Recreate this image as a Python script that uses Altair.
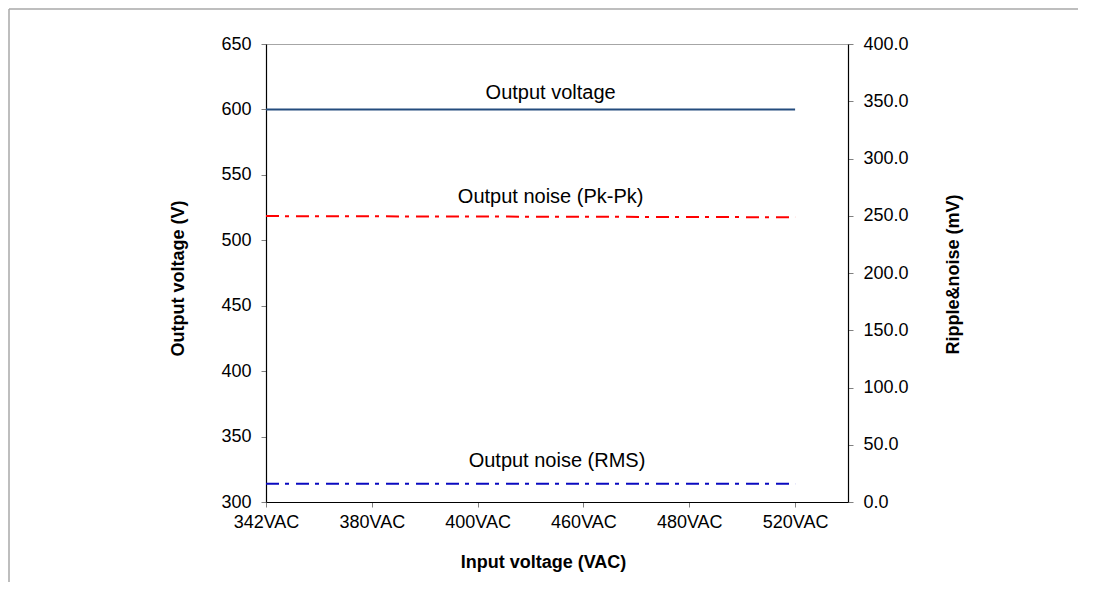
import json
import altair as alt
import pandas as pd

# ---- data ----
categories = ["342VAC", "380VAC", "400VAC", "460VAC", "480VAC", "520VAC"]
output_voltage = [600, 600, 600, 600, 600, 600]          # V (left axis)
noise_pkpk = [249.7, 249.5, 249.3, 249.1, 248.9, 248.7]   # mV (right axis)
noise_rms = [16.0, 16.0, 16.0, 16.0, 16.0, 16.0]          # mV (right axis)

left_ticks = [300, 350, 400, 450, 500, 550, 600, 650]
right_ticks = [0, 50, 100, 150, 200, 250, 300, 350, 400]

# annotation labels (x in category index units, y in the axis units)
ann_left_text = ["Output voltage"]
ann_left_x = [2.69]
ann_left_y = [612.5]
ann_right_text = ["Output noise (Pk-Pk)", "Output noise (RMS)"]
ann_right_x = [2.69, 2.75]
ann_right_y = [266.4, 35.8]

FONT = "Liberation Sans"

df = pd.DataFrame({
    "idx": list(range(len(categories))),
    "category": categories,
    "output_voltage": output_voltage,
    "noise_pkpk": noise_pkpk,
    "noise_rms": noise_rms,
})
ann_l = pd.DataFrame({"text": ann_left_text, "x": ann_left_x, "y": ann_left_y})
ann_r = pd.DataFrame({"text": ann_right_text, "x": ann_right_x, "y": ann_right_y})

label_expr = json.dumps(categories) + "[datum.value]"
x_scale = alt.Scale(domain=[0, 5.5], nice=False, zero=False)
x_axis = alt.Axis(values=list(range(len(categories))), labelExpr=label_expr,
                  title="Input voltage (VAC)", labelFlush=False, labelOverlap=False,
                  labelPadding=6, titleX=277, titleY=60, titleBaseline="middle",
                  titleAlign="center")


def X(field):
    return alt.X(field, type="quantitative", scale=x_scale, axis=x_axis)


left_scale = alt.Scale(domain=[300, 650], nice=False, zero=False)
left_axis = alt.Axis(values=left_ticks, title="Output voltage (V)", labelPadding=10,
                     labelFlush=False, labelOverlap=False,
                     titleAngle=270, titleX=-88, titleY=234, titleBaseline="middle",
                     titleAlign="center")
right_scale = alt.Scale(domain=[0, 400], nice=False, zero=True)
right_axis = alt.Axis(values=right_ticks, orient="right", format=".1f",
                      title="Ripple&noise (mV)", labelPadding=10,
                      labelFlush=False, labelOverlap=False,
                      titleAngle=270, titleX=105, titleY=230, titleBaseline="middle",
                      titleAlign="center")


def YL(field):
    return alt.Y(field, type="quantitative", scale=left_scale, axis=left_axis)


def YR(field):
    return alt.Y(field, type="quantitative", scale=right_scale, axis=right_axis)


base = alt.Chart(df)

v_line = base.mark_line(color="#244C7E", strokeWidth=2).encode(x=X("idx"), y=YL("output_voltage"))
v_text = alt.Chart(ann_l).mark_text(font=FONT, fontSize=20, color="black",
                                    align="center", baseline="middle").encode(
    x=X("x"), y=YL("y"), text="text:N")

# outer chart-area frame (top and left edges)
frame = alt.Chart(pd.DataFrame({"k": [0]})).mark_rule(color="#a8a8a8", strokeWidth=1.5).encode(
    x=alt.value(-257), x2=alt.value(812), y=alt.value(-35))
frame2 = alt.Chart(pd.DataFrame({"k": [0]})).mark_rule(color="#a8a8a8", strokeWidth=1.5).encode(
    x=alt.value(-257), y=alt.value(-35), y2=alt.value(538))

left_layer = alt.layer(v_line, v_text, frame, frame2)

pk_line = base.mark_line(color="#FF0000", strokeWidth=2, strokeDash=[13, 6, 4, 7]).encode(
    x=X("idx"), y=YR("noise_pkpk"))
rms_line = base.mark_line(color="#0A0AC0", strokeWidth=2, strokeDash=[13, 6, 4, 7]).encode(
    x=X("idx"), y=YR("noise_rms"))
r_text = alt.Chart(ann_r).mark_text(font=FONT, fontSize=20, color="black",
                                    align="center", baseline="middle").encode(
    x=X("x"), y=YR("y"), text="text:N")

right_layer = alt.layer(pk_line, rms_line, r_text)

chart = alt.layer(left_layer, right_layer).resolve_scale(y="independent").properties(
    width=582, height=458,
    padding={"left": 258, "top": 36, "right": 230, "bottom": 80},
    autosize=alt.AutoSizeParams(type="none"),
    background="white",
).configure_axis(
    labelFont=FONT, titleFont=FONT, labelFontSize=18, titleFontSize=18,
    titleFontWeight="bold", labelColor="black", titleColor="black",
    domainColor="black", domainWidth=1.2, tickColor="#808080", tickSize=5, tickWidth=1,
    grid=False,
).configure_view(stroke="#a6a6a6", strokeWidth=1)

chart.save("out.html", embed_options={"renderer": "svg", "actions": False})
